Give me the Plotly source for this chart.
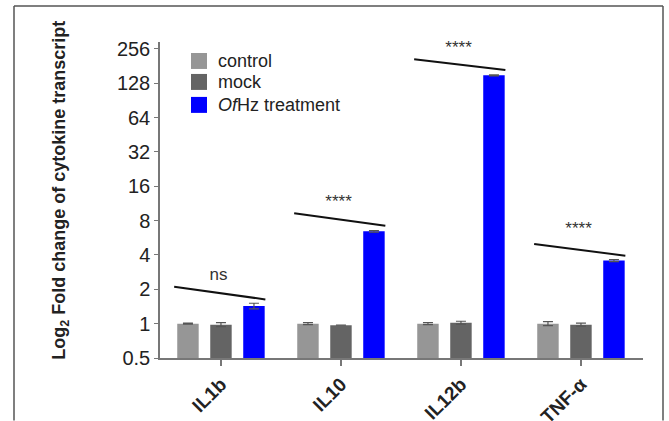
import math
import plotly.graph_objects as go

categories = ["IL1b", "IL10", "IL12b", "TNF-α"]
series_names = ["control", "mock", "<i>Of</i>Hz treatment"]
control = [1.00, 1.00, 1.00, 1.00]
control_err = [0.01, 0.02, 0.02, 0.04]
mock = [0.98, 0.97, 1.02, 0.98]
mock_err = [0.04, 0.0, 0.03, 0.03]
ofhz = [1.43, 6.45, 150.0, 3.57]
ofhz_err = [0.08, 0.10, 1.5, 0.07]
colors = ["#969696", "#646464", "#0000FF"]

y_tickvals = [0.5, 1, 2, 4, 8, 16, 32, 64, 128, 256]
y_ticktext = ["0.5", "1", "2", "4", "8", "16", "32", "64", "128", "256"]

# significance brackets: (start y, end y, label)
sig_start = [2.11, 9.3, 208.0, 5.0]
sig_end = [1.63, 7.2, 167.0, 3.94]
sig_label = ["ns", "****", "****", "****"]
sig_label_y = [2.62, 11.4, 256.0, 6.6]

W, H = 669, 421
L, R, T, B = 160, 26, 42, 62.5
pw, ph = W - L - R, H - T - B

def px_x(p):
    return (p - L) / pw

def px_y(p):
    return (H - B - p) / ph

FONT = "Liberation Sans, Arial"
xs = list(range(len(categories)))
fig = go.Figure()
for name, vals, errs, col in zip(series_names, [control, mock, ofhz],
                                 [control_err, mock_err, ofhz_err], colors):
    fig.add_trace(go.Bar(
        x=xs, y=vals, name=name, showlegend=False,
        marker=dict(color=col, line=dict(width=0)),
        error_y=dict(type="data", array=errs, visible=True, color="#555555",
                     thickness=1.2, width=5),
    ))

for i in xs:
    fig.add_trace(go.Scatter(
        x=[i - 0.39, i + 0.37], y=[sig_start[i], sig_end[i]], mode="lines",
        line=dict(color="#111111", width=2), showlegend=False, hoverinfo="skip"))
    fig.add_trace(go.Scatter(
        x=[i - 0.02], y=[sig_label_y[i]], mode="text", text=[sig_label[i]],
        textfont=dict(family=FONT, size=17 if sig_label[i] == "ns" else 17,
                      color="#333333"),
        cliponaxis=False, showlegend=False, hoverinfo="skip"))

# manual legend (squares + labels)
legend_rows_px = [61, 82, 105]
shapes = []
annotations = []
for name, col, cy in zip(series_names, colors, legend_rows_px):
    shapes.append(dict(type="rect", xref="paper", yref="paper",
                       x0=px_x(191), x1=px_x(207), y0=px_y(cy + 8), y1=px_y(cy - 8),
                       fillcolor=col, line=dict(width=0)))
    annotations.append(dict(xref="paper", yref="paper", x=px_x(216), y=px_y(cy),
                            xanchor="left", yanchor="middle", text=name, showarrow=False,
                            font=dict(family=FONT, size=18, color="#222222")))

# figure frame (left, top, right edges)
frame_col = "#555555"
shapes += [
    dict(type="line", xref="paper", yref="paper", x0=px_x(14), x1=px_x(14),
         y0=px_y(421), y1=px_y(6), line=dict(color=frame_col, width=1.5)),
    dict(type="line", xref="paper", yref="paper", x0=px_x(14), x1=px_x(663),
         y0=px_y(6), y1=px_y(6), line=dict(color=frame_col, width=1.5)),
    dict(type="line", xref="paper", yref="paper", x0=px_x(663), x1=px_x(663),
         y0=px_y(421), y1=px_y(6), line=dict(color=frame_col, width=1.5)),
]

annotations.append(dict(xref="paper", yref="paper", x=px_x(47.5), y=px_y(191),
                        text="<b>Log<sub>2</sub> Fold change of cytokine transcript</b>",
                        textangle=-90, showarrow=False,
                        font=dict(family=FONT, size=18, color="#222222")))

fig.update_layout(
    width=W, height=H, margin=dict(l=L, r=R, t=T, b=B, autoexpand=False),
    paper_bgcolor="white", plot_bgcolor="white",
    barmode="group", bargap=0.175, bargroupgap=0.35,
    font=dict(family=FONT, color="#222222", size=18),
    showlegend=False,
    xaxis=dict(range=[-0.508, 3.517], tickvals=xs, ticktext=categories,
               tickangle=-45, tickfont=dict(size=19, family=FONT,
                                            weight="bold", color="#222222"),
               automargin=False,
               showline=True, linecolor="#777777", linewidth=1.5,
               ticks="outside", ticklen=6, tickcolor="#777777", tickwidth=1.5,
               showgrid=False, zeroline=False),
    yaxis=dict(type="log", range=[math.log10(0.5), 8.2 * math.log10(2)],
               tickvals=y_tickvals, ticktext=y_ticktext, automargin=False,
               tickfont=dict(size=20, family=FONT, color="#222222"),
               showline=True, linecolor="#777777", linewidth=1.5,
               ticks="outside", ticklen=4, tickcolor="#777777", tickwidth=1.2,
               showgrid=False, zeroline=False),
    shapes=shapes,
    annotations=annotations,
)

fig.write_html("out.html")
